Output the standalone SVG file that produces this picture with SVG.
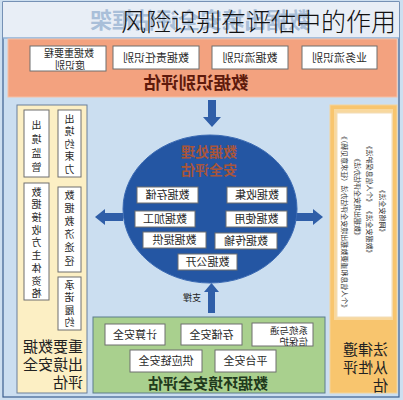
<svg xmlns="http://www.w3.org/2000/svg" width="403" height="400" viewBox="0 0 403 400">
<defs>
<style>
text{font-family:"Noto Sans CJK SC","Noto Sans",sans-serif;}
.bx{fill:#ffffff;stroke:#6f6f6f;stroke-width:1;}
.t11{font-size:11px;fill:#2a2a2a;text-anchor:middle;}
.t10{font-size:10px;fill:#2a2a2a;text-anchor:middle;}
.vt{font-size:10px;fill:#2a2a2a;text-anchor:middle;writing-mode:vertical-rl;}
.law{font-size:7px;fill:#333;text-anchor:middle;}
.arr{fill:#2f5ea8;}
.lbl{font-size:15px;fill:#222;}
</style>
</defs>
<rect x="0" y="0" width="403" height="400" fill="#cddff0"/>
<rect x="3" y="2" width="396" height="395" fill="#cbdef0" stroke="#3d5f8f" stroke-width="1.2"/>
<rect x="3" y="2" width="396" height="36" fill="#e8eef6"/>
<line x1="3" y1="38" x2="399" y2="38" stroke="#8fb0d6" stroke-width="1.5"/>
<g id="header">
<text x="200" y="28" font-size="22" font-weight="bold" fill="#a9bfd9" text-anchor="middle" transform="matrix(-1 0 0 1 400 0)">数据出境安全评估框架</text>
<text x="121" y="31" font-size="25" fill="#111" font-weight="300">风险识别在评估中的作用</text>
</g>
<g id="top-band">
<rect x="8" y="39" width="389" height="58" fill="#f3a27f" stroke="#f6c0a6" stroke-width="1"/>
<rect class="bx" x="30" y="46" width="76" height="25"/>
<text class="t10" transform="matrix(-1 0 0 1 138 0)"><tspan x="69" y="56.5">数据重要程</tspan><tspan x="68" y="68.5">度识别</tspan></text>
<rect class="bx" x="113" y="46" width="86" height="23"/>
<text class="t11" x="156" y="61.5" transform="matrix(-1 0 0 1 312 0)">数据责任识别</text>
<rect class="bx" x="212" y="46" width="76" height="23"/>
<text class="t11" x="250" y="61.5" transform="matrix(-1 0 0 1 500 0)">数据流识别</text>
<rect class="bx" x="302" y="46" width="75" height="23"/>
<text class="t11" x="339.5" y="61.5" transform="matrix(-1 0 0 1 679 0)">业务流识别</text>
<text x="196" y="89" font-size="17.5" font-weight="bold" fill="#5e1a0c" text-anchor="middle" transform="matrix(-1 0 0 1 392 0)">数据识别评估</text>
</g>
<g id="connectors">
<path class="arr" d="M208,100 H216 V117 H221 L212,127 L203,117 H208 Z"/>
<path class="arr" d="M123,213 H105 V209 L95,217 L105,225 V221 H123 Z"/>
<path class="arr" d="M296,213 H313 V209 L323,217 L313,225 V221 H296 Z"/>
<path class="arr" d="M208,313 V292 H204 L211.5,283 L219,292 H215 V313 Z"/>
<text x="192" y="301" font-size="9" fill="#222" text-anchor="middle" transform="matrix(-1 0 0 1 384 0)">支撑</text>
</g>
<g id="process-circle">
<ellipse cx="210" cy="209" rx="87" ry="74" fill="#2456a3" stroke="#3b6ab3" stroke-width="1"/>
<text x="209" y="157" font-size="14" font-weight="bold" fill="#a8553a" text-anchor="middle" transform="matrix(-1 0 0 1 418 0)">数据处理</text>
<text x="209" y="175" font-size="14" font-weight="bold" fill="#a8553a" text-anchor="middle" transform="matrix(-1 0 0 1 418 0)">安全评估</text>
<rect class="bx" x="137" y="187" width="61" height="16"/>
<text class="t11" x="167.5" y="199" transform="matrix(-1 0 0 1 335 0)">数据存储</text>
<rect class="bx" x="227" y="187" width="60" height="16"/>
<text class="t11" x="257" y="199" transform="matrix(-1 0 0 1 514 0)">数据收集</text>
<rect class="bx" x="135" y="211" width="60" height="16"/>
<text class="t11" x="165" y="223" transform="matrix(-1 0 0 1 330 0)">数据加工</text>
<rect class="bx" x="226" y="211" width="61" height="16"/>
<text class="t11" x="256.5" y="223" transform="matrix(-1 0 0 1 513 0)">数据使用</text>
<rect class="bx" x="143" y="232" width="63" height="16"/>
<text class="t11" x="174.5" y="244" transform="matrix(-1 0 0 1 349 0)">数据提供</text>
<rect class="bx" x="215" y="233" width="62" height="16"/>
<text class="t11" x="246" y="245" transform="matrix(-1 0 0 1 492 0)">数据传输</text>
<rect class="bx" x="178" y="254" width="59" height="16"/>
<text class="t11" x="207.5" y="266" transform="matrix(-1 0 0 1 415 0)">数据公开</text>
</g>
<g id="left-panel">
<rect x="17" y="105" width="70" height="288" fill="#fcefc4" stroke="#6a7f9a" stroke-width="1"/>
<rect class="bx" x="24" y="110" width="25" height="67"/>
<text class="vt" x="36.5" y="148" letter-spacing="4" transform="matrix(-1 0 0 1 73 0)">出境监管</text>
<rect class="bx" x="58" y="110" width="23" height="67"/>
<text class="vt" x="69.5" y="145" letter-spacing="2.5" transform="matrix(-1 0 0 1 139 0)">出境约束力</text>
<rect class="bx" x="24" y="183" width="25" height="117"/>
<text class="vt" x="36.5" y="244" letter-spacing="2.7" transform="matrix(-1 0 0 1 73 0)">数据接收方主体资格</text>
<rect class="bx" x="58" y="187" width="23" height="85"/>
<text class="vt" x="69.5" y="229.5" letter-spacing="3.2" transform="matrix(-1 0 0 1 139 0)">数据救济途径</text>
<rect class="bx" x="58" y="277" width="23" height="53"/>
<text class="vt" x="69.5" y="305" letter-spacing="2.5" transform="matrix(-1 0 0 1 139 0)">承诺履约</text>
<text class="lbl" transform="matrix(-1 0 0 1 166 0)"><tspan x="83" y="352">重要数据</tspan><tspan x="83" y="370">出境安全</tspan><tspan x="83" y="388">评估</tspan></text>
</g>
<g id="right-panel">
<rect x="330" y="105" width="67" height="288" fill="#f8c56e" stroke="#f3d49c" stroke-width="1"/>
<rect x="334" y="109" width="59" height="211" fill="#f8d89e"/>
<rect x="337" y="113" width="55" height="204" fill="#ffffff" stroke="#f1dcb6" stroke-width="1"/>
<text class="law" dy="0.35em" transform="translate(382,211) scale(-1,1) rotate(-90)">《网络安全法》</text>
<text class="law" dy="0.35em" transform="translate(369,174) scale(-1,1) rotate(-90)">《个人信息保护法》</text>
<text class="law" dy="0.35em" transform="translate(369,232) scale(-1,1) rotate(-90)">《数据安全法》</text>
<text class="law" dy="0.35em" font-size="6.5" transform="translate(357,197) scale(-1,1) rotate(-90)">《数据出境安全评估办法》</text>
<text class="law" dy="0.35em" transform="translate(344,222) scale(-1,1) rotate(-90)">《个人信息和重要数据出境安全评估办法（征求意见稿）》</text>
<text class="lbl" transform="matrix(-1 0 0 1 776 0)"><tspan x="388" y="355">法律遵</tspan><tspan x="388" y="373">从性评</tspan><tspan x="388" y="391">估</tspan></text>
</g>
<g id="env-panel">
<rect x="93" y="317" width="232" height="76" fill="#a9d08e" stroke="#5d7d8c" stroke-width="1"/>
<rect class="bx" x="105" y="324" width="60" height="21"/>
<text class="t11" x="135" y="338.5" transform="matrix(-1 0 0 1 270 0)">计算安全</text>
<rect class="bx" x="181" y="324" width="61" height="21"/>
<text class="t11" x="211.5" y="338.5" transform="matrix(-1 0 0 1 423 0)">存储安全</text>
<rect class="bx" x="252" y="323" width="61" height="23"/>
<text font-size="9.5" fill="#2a2a2a" transform="matrix(-1 0 0 1 616 0)"><tspan x="308" y="333.5">系统与通</tspan><tspan x="308" y="345">信保护</tspan></text>
<rect class="bx" x="130" y="350" width="72" height="22"/>
<text class="t11" x="166" y="365" transform="matrix(-1 0 0 1 332 0)">供应链安全</text>
<rect class="bx" x="215" y="350" width="61" height="22"/>
<text class="t11" x="245.5" y="365" transform="matrix(-1 0 0 1 491 0)">平台安全</text>
<text x="208" y="389" font-size="15" font-weight="bold" fill="#1f3a1c" text-anchor="middle" transform="matrix(-1 0 0 1 416 0)">数据环境安全评估</text>
</g>
</svg>
